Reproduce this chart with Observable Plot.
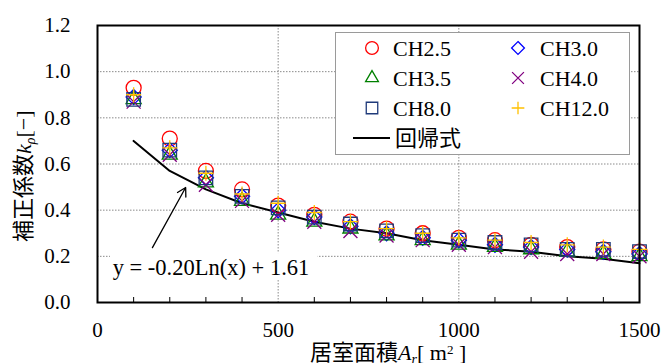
<!DOCTYPE html>
<html><head><meta charset="utf-8">
<script src="https://cdn.jsdelivr.net/npm/d3@7"></script>
<script src="https://cdn.jsdelivr.net/npm/@observablehq/plot@0.6"></script>
<style>
body{margin:0;background:#fff}
#chart{position:relative;width:663px;height:363px;overflow:hidden;background:#fff}
</style>
</head><body><div id="chart"></div>
<script>
// Room floor area A_r [m2]
const areas = [100,200,300,400,500,600,700,800,900,1000,1100,1200,1300,1400,1500];
// Correction factor k_rho per ceiling height
const ch25  = [0.93,0.71,0.57,0.49,0.42,0.38,0.35,0.32,0.30,0.28,0.27,0.25,0.24,0.23,0.22];
const ch30  = [0.89,0.66,0.54,0.46,0.40,0.37,0.33,0.30,0.28,0.27,0.25,0.24,0.23,0.22,0.21];
const ch35  = [0.88,0.64,0.52,0.44,0.38,0.35,0.32,0.29,0.27,0.25,0.24,0.23,0.22,0.21,0.20];
const ch40  = [0.87,0.64,0.51,0.44,0.38,0.35,0.31,0.29,0.27,0.25,0.24,0.22,0.21,0.21,0.20];
const ch80  = [0.88,0.66,0.54,0.46,0.41,0.37,0.34,0.31,0.29,0.27,0.26,0.25,0.23,0.23,0.22];
const ch120 = [0.90,0.67,0.56,0.47,0.43,0.39,0.35,0.32,0.30,0.28,0.27,0.26,0.25,0.24,0.23];
// Regression curve
const fitValues = [0.70,0.57,0.49,0.43,0.39,0.35,0.32,0.30,0.27,0.25,0.23,0.22,0.20,0.19,0.17];

const seriesNames = ["CH2.5","CH3.0","CH3.5","CH4.0","CH8.0","CH12.0"];
const seriesValues = [ch25, ch30, ch35, ch40, ch80, ch120];
const seriesSymbols = ["circle","diamond2","triangle2","times","square2","plus"];
const seriesColors = ["#ff0000","#0000ff","#008000","#800080","#1f3a7a","#ffc000"];
const seriesR = [7.5, 6.8, 7.2, 6.4, 8.6, 4.9];
const fitLabel = "回帰式";
const equationText = "y = -0.20Ln(x) + 1.61";

const xTicks = [0,500,1000,1500];
const yTicks = [0,0.2,0.4,0.6,0.8,1.0,1.2];
const minorX = [100,200,300,400,600,700,800,900,1100,1200,1300,1400];

// annotation placement (data units)
const eqPos = {x: 42, y: 0.150};
const eqBox = {x1: 36, x2: 610, y1: 0.095, y2: 0.212};
const arrowPos = {x1: 152, y1: 0.238, x2: 244, y2: 0.498};

const serif = "'Liberation Serif', serif";
const cjk = "'Noto Sans CJK JP', sans-serif";

const dotMarks = seriesNames.map((name, i) => {
  const rows = areas.map((a, j) => ({area: a, v: seriesValues[i][j]}));
  return Plot.dot(rows, {x: "area", y: "v", symbol: seriesSymbols[i], stroke: seriesColors[i],
    fill: "none", r: seriesR[i], strokeWidth: 1.3});
});
const fitRows = areas.map((a, j) => ({area: a, v: fitValues[j]}));
const gridStyle = {stroke: "#8a8a8a", strokeOpacity: 1, strokeWidth: 1, strokeDasharray: "1.5,1.5"};

const chart = Plot.plot({
  width: 663, height: 363,
  marginLeft: 97, marginRight: 24, marginTop: 25, marginBottom: 61,
  style: {fontFamily: serif, fontSize: "21px", background: "#fff", color: "#000", overflow: "visible"},
  x: {domain: [0, 1500]},
  y: {domain: [0, 1.2]},
  marks: [
    Plot.ruleX(xTicks, {x: d => d, ...gridStyle}),
    Plot.ruleY(yTicks, {y: d => d, ...gridStyle}),
    Plot.tickX(minorX, {x: d => d, insetTop: 272, stroke: "#000", strokeWidth: 1}),
    Plot.axisX({ticks: xTicks, tickSize: 0, tickPadding: 20, tickFormat: d => String(d), fontSize: 21, fontFamily: serif, label: null}),
    Plot.axisY({ticks: yTicks, tickSize: 0, tickPadding: 27, tickFormat: d => d.toFixed(1), fontSize: 21, fontFamily: serif, label: null}),
    Plot.rect([eqBox], {x1: "x1", x2: "x2", y1: "y1", y2: "y2", fill: "#fff"}),
    Plot.text([equationText], {x: eqPos.x, y: eqPos.y, text: d => d, textAnchor: "start", fontSize: 22.5, fontFamily: serif, fill: "#000"}),
    Plot.arrow([arrowPos], {x1: "x1", y1: "y1", x2: "x2", y2: "y2", stroke: "#000", strokeWidth: 1.3, headLength: 11, bend: 0}),
    Plot.line(fitRows, {x: "area", y: "v", stroke: "#000", strokeWidth: 2}),
    ...dotMarks,
    Plot.frame({stroke: "#000", strokeWidth: 2})
  ]
});
document.getElementById("chart").appendChild(chart);

// Legend and axis titles (added as SVG text / symbols)
const svg = d3.select(chart);
const symbolTypes = {circle: d3.symbolCircle, diamond2: d3.symbolDiamond2, triangle2: d3.symbolTriangle2,
  times: d3.symbolTimes, square2: d3.symbolSquare2, plus: d3.symbolPlus};
const lg = svg.append("g").attr("text-anchor", "start");
lg.append("rect").attr("x", 335.5).attr("y", 32.5).attr("width", 294).attr("height", 122)
  .attr("fill", "#fff").attr("stroke", "#9a9a9a").attr("stroke-width", 1);
const colX = [372, 518], textX = [393, 540], rowY = [48, 78, 108];
seriesNames.forEach((name, i) => {
  const c = i % 2, r = Math.floor(i / 2);
  const rr = seriesR[i] * 0.85;
  lg.append("path").attr("d", d3.symbol(symbolTypes[seriesSymbols[i]], Math.PI * rr * rr)())
    .attr("transform", `translate(${colX[c]},${rowY[r]})`)
    .attr("fill", "none").attr("stroke", seriesColors[i]).attr("stroke-width", 1.3);
  lg.append("text").attr("x", textX[c]).attr("y", rowY[r]).attr("dy", "0.35em")
    .style("font-family", serif).style("font-size", "22px").attr("text-anchor", "start").text(name);
});
lg.append("line").attr("x1", 353).attr("x2", 390).attr("y1", 138).attr("y2", 138)
  .attr("stroke", "#000").attr("stroke-width", 2);
lg.append("text").attr("x", 395).attr("y", 138).attr("dy", "0.36em").attr("text-anchor", "start")
  .style("font-family", cjk).style("font-size", "22px").text(fitLabel);

// x-axis title
const xt = svg.append("text").attr("x", 310).attr("y", 360).attr("text-anchor", "start")
  .style("font-size", "22px").attr("fill", "#000");
xt.append("tspan").style("font-family", cjk).text("居室面積");
xt.append("tspan").style("font-family", serif).style("font-style", "italic").text("A");
xt.append("tspan").style("font-family", serif).style("font-style", "italic").style("font-size", "14px").attr("dy", 4).text("r");
xt.append("tspan").style("font-family", serif).attr("dy", -4).text("[ m");
xt.append("tspan").style("font-family", serif).style("font-size", "13px").attr("dy", -6).text("2");
xt.append("tspan").style("font-family", serif).attr("dy", 6).text(" ]");

// y-axis title
const yt = svg.append("text").attr("transform", "translate(31,242) rotate(-90)").attr("text-anchor", "start")
  .style("font-size", "22px").attr("fill", "#000");
yt.append("tspan").style("font-family", cjk).text("補正係数");
yt.append("tspan").style("font-family", serif).style("font-style", "italic").text("k");
yt.append("tspan").style("font-family", serif).style("font-style", "italic").style("font-size", "14px").attr("dy", 4).text("ρ");
yt.append("tspan").style("font-family", serif).attr("dy", -4).text("[−]");
</script>
</body></html>
